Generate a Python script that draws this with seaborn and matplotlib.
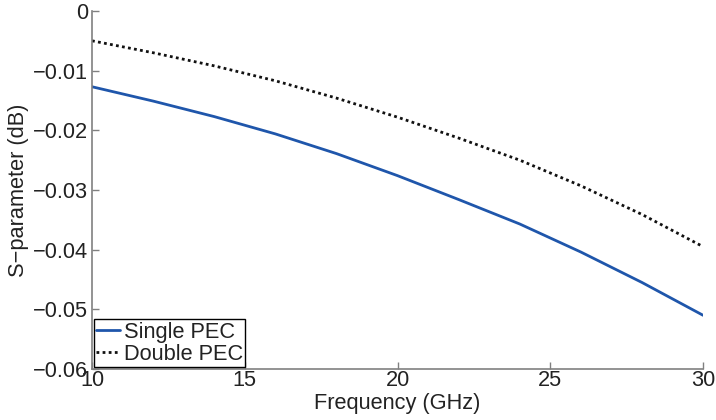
import pandas as pd
import matplotlib
matplotlib.use('Agg')
import matplotlib.pyplot as plt
import seaborn as sns

# Data
freq_ghz = [10, 12, 14, 16, 18, 20, 22, 24, 26, 28, 30]
single_pec = [-0.0127, -0.0151, -0.0177, -0.0206, -0.0239, -0.0276,
              -0.0316, -0.0357, -0.0404, -0.0455, -0.0510]
double_pec = [-0.0050, -0.0070, -0.0092, -0.0117, -0.0146, -0.0178,
              -0.0213, -0.0250, -0.0293, -0.0341, -0.0395]
x_ticks = [10, 15, 20, 25, 30]
y_ticks = [0, -0.01, -0.02, -0.03, -0.04, -0.05, -0.06]

df = pd.DataFrame({'Frequency': freq_ghz,
                   'Single PEC': single_pec,
                   'Double PEC': double_pec})
df_long = pd.melt(df, ['Frequency'], var_name='Series', value_name='S')

sns.set_style('ticks')
plt.rcParams['font.family'] = ['Liberation Sans', 'DejaVu Sans']

fig = plt.figure(figsize=(7.16, 4.2), dpi=100)
ax = fig.add_axes([0.1285, 0.1214, 0.8535, 0.8525])

sns.lineplot(data=df_long, x='Frequency', y='S', hue='Series', style='Series',
             palette={'Single PEC': '#1f56ab', 'Double PEC': '#111111'},
             dashes={'Single PEC': '', 'Double PEC': (1, 1.2)},
             linewidth=2, ax=ax)

ax.set_xlim(10, 30)
ax.set_ylim(-0.06, 0)
ax.set_xticks(x_ticks)
ax.set_yticks(y_ticks)
ax.set_xticklabels([str(t) for t in x_ticks])
ax.set_yticklabels(['0'] + ['\u2212%.2f' % abs(t) for t in y_ticks[1:]])
ax.tick_params(direction='in', length=5, width=1, color='#808080',
               labelsize=15.7, labelcolor='#222222', pad=3)
ax.tick_params(axis='x', pad=1)
for side in ['top', 'right']:
    ax.spines[side].set_visible(False)
for side in ['left', 'bottom']:
    ax.spines[side].set_color('#808080')
    ax.spines[side].set_linewidth(1.2)

ax.set_xlabel('Frequency (GHz)', fontsize=15.7, color='#222222', labelpad=1)
ax.set_ylabel('S\u2212parameter (dB)', fontsize=15.7, color='#222222', labelpad=3)

leg = ax.legend(loc='lower left', fontsize=15.7, frameon=True, fancybox=False,
                handlelength=1.1, handletextpad=0.15, borderpad=0.1,
                labelspacing=0.05, borderaxespad=0.1, framealpha=1)
leg.get_frame().set_edgecolor('black')
leg.get_frame().set_linewidth(1)
for t in leg.get_texts():
    t.set_color('#222222')

fig.savefig('out.png', dpi=100)
